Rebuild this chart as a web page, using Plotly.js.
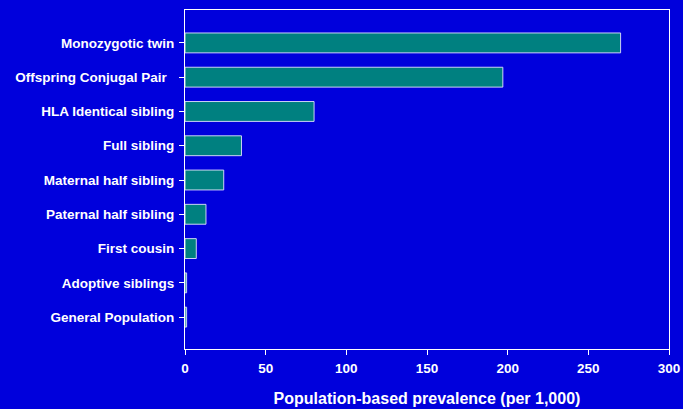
<!DOCTYPE html>
<html>
<head>
<meta charset="utf-8">
<script src="https://cdn.plot.ly/plotly-3.0.1.min.js"></script>
<style>html,body{margin:0;padding:0;background:#0000DC;}</style>
</head>
<body>
<div id="chart" style="width:683px;height:409px;"></div>
<script>
const categories = ["Monozygotic twin", "Offspring Conjugal Pair\u00a0\u00a0", "HLA Identical sibling", "Full sibling", "Maternal half sibling", "Paternal half sibling", "First cousin", "Adoptive siblings", "General Population"];
const prevalence = [270, 197, 80, 35, 24, 13, 7, 1, 1];
const xTicks = [0, 50, 100, 150, 200, 250, 300];

const font = {family: "Liberation Sans, Arial, sans-serif", color: "#ffffff", size: 13};

Plotly.newPlot("chart", [{
  type: "bar",
  orientation: "h",
  x: prevalence,
  y: categories,
  marker: {color: "#008080", line: {color: "rgba(225,225,255,0.9)", width: 1}},
  width: 0.58,
  hoverinfo: "none"
}], {
  width: 683, height: 409,
  paper_bgcolor: "#0000DC",
  plot_bgcolor: "#0000DC",
  margin: {l: 185, r: 14, t: 10, b: 60},
  showlegend: false,
  font: font,
  xaxis: {
    range: [0, 300],
    tickvals: xTicks,
    ticktext: xTicks.map(String),
    ticks: "outside", ticklen: 5, tickcolor: "#ffffff",
    showgrid: false, zeroline: false,
    showline: true, linecolor: "#ffffff", linewidth: 1, mirror: true,
    tickfont: {family: font.family, color: "#ffffff", size: 13.5, weight: "bold"},
    ticklabelstandoff: 2,
    title: {text: "<b>Population-based prevalence (per 1,000)</b>", font: {family: font.family, color: "#ffffff", size: 16}, standoff: 17}
  },
  yaxis: {
    type: "category",
    categoryorder: "array",
    categoryarray: categories,
    range: [8.93, -0.96],
    ticks: "outside", ticklen: 5, tickcolor: "#ffffff",
    showgrid: false, zeroline: false,
    showline: true, linecolor: "#ffffff", linewidth: 1, mirror: true,
    tickfont: {family: font.family, color: "#ffffff", size: 13.5, weight: "bold"},
    ticklabelstandoff: 2
  }
}, {staticPlot: true, displayModeBar: false});
</script>
</body>
</html>
